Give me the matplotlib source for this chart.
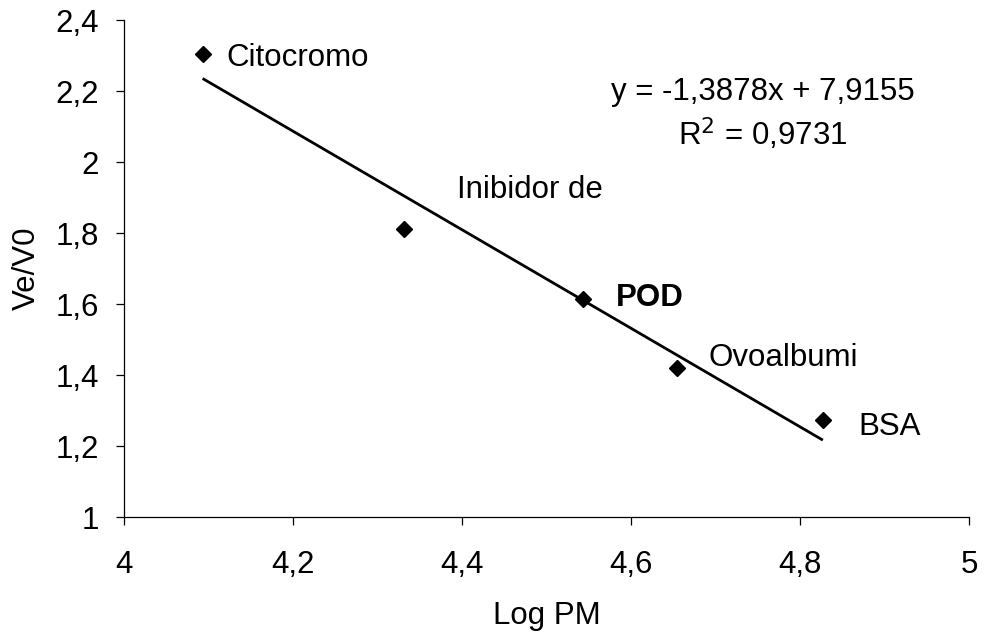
import matplotlib
matplotlib.use("Agg")
import matplotlib.pyplot as plt
from matplotlib.ticker import FuncFormatter, MultipleLocator

plt.rcParams['font.family'] = ['Liberation Sans', 'DejaVu Sans']

# ── Data ──────────────────────────────────────────────────────────────────────
log_pm = [4.093, 4.331, 4.543, 4.654, 4.827]
ve_v0  = [2.304, 1.812, 1.613, 1.421, 1.273]
names  = ["Citocromo", "Inibidor de", "POD", "Ovoalbumi", "BSA"]

# label anchors (data coords)
label_x = [4.121, 4.394, 4.582, 4.692, 4.869]
label_y = [2.293, 1.921, 1.617, 1.448, 1.254]

slope, intercept = -1.3878, 7.9155
r2 = 0.9731

FS = 22.5

# ── Figure ────────────────────────────────────────────────────────────────────
fig = plt.figure(figsize=(9.86, 6.35), dpi=100)
ax = fig.add_axes([0.1258, 0.1858, 0.857, 0.7827])

fit_x = [min(log_pm), max(log_pm)]
fit_y = [slope * x + intercept for x in fit_x]
ax.plot(fit_x, fit_y, color="black", lw=2, solid_capstyle="butt", zorder=2)
ax.plot(log_pm, ve_v0, linestyle="none", marker="D", ms=8.5, color="black", zorder=3)

for n, x, y in zip(names, label_x, label_y):
    ax.text(x, y, n, fontsize=FS, va="center", ha="left",
            fontweight="bold" if n == "POD" else "normal")

eq = f"y = {slope:.4f}x + {intercept:.4f}".replace(".", ",")
ax.text(4.756, 2.197, eq, fontsize=FS, ha="center", va="center")
ax.text(4.756, 2.079, r"R$^2$ = " + f"{r2:.4f}".replace(".", ","), fontsize=FS,
        ha="center", va="center")

ax.set_xlim(4, 5)
ax.set_ylim(1, 2.4)
ax.xaxis.set_major_locator(MultipleLocator(0.2))
ax.yaxis.set_major_locator(MultipleLocator(0.2))
fmt = FuncFormatter(lambda v, p: f"{round(v, 1):g}".replace(".", ","))
ax.xaxis.set_major_formatter(fmt)
ax.yaxis.set_major_formatter(fmt)

for s in ["top", "right"]:
    ax.spines[s].set_visible(False)
for s in ["left", "bottom"]:
    ax.spines[s].set_linewidth(0.9)
ax.tick_params(axis="both", direction="out", length=6, width=0.9, labelsize=FS)
ax.tick_params(axis="x", pad=18)
ax.tick_params(axis="y", pad=12)

ax.set_xlabel("Log PM", fontsize=FS, labelpad=15)
ax.set_ylabel("Ve/V0", fontsize=FS, labelpad=10)

fig.savefig("out.png", dpi=100)
